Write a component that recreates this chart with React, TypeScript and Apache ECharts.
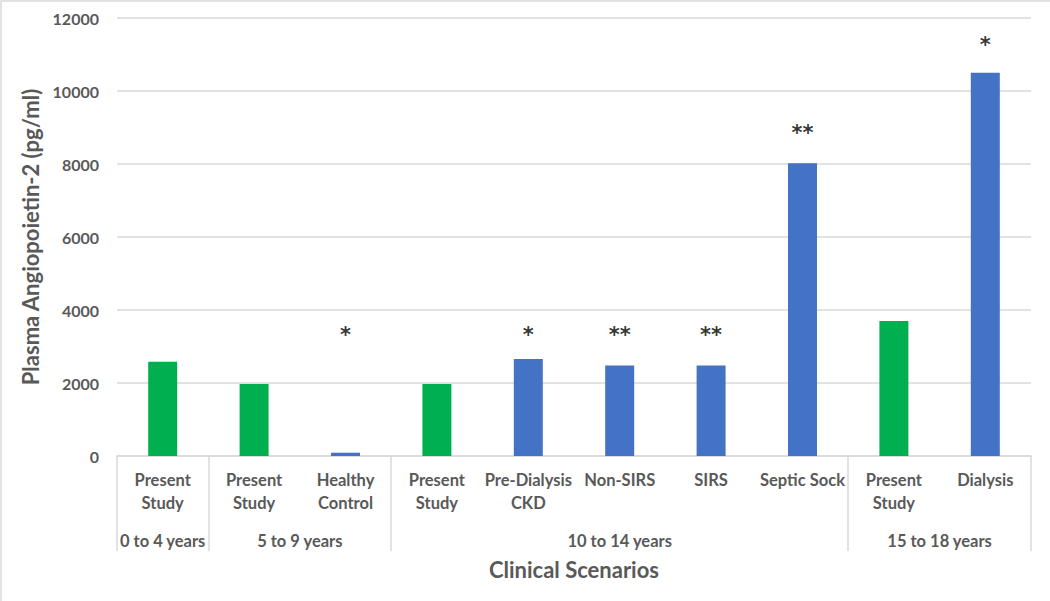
import React, { useEffect, useRef } from "react";
import * as echarts from "echarts";

const categories = [
  "Present\nStudy",
  "Present\nStudy",
  "Healthy\nControl",
  "Present\nStudy",
  "Pre-Dialysis\nCKD",
  "Non-SIRS",
  "SIRS",
  "Septic Sock",
  "Present\nStudy",
  "Dialysis",
];
const values = [2580, 1970, 90, 1970, 2660, 2480, 2480, 8020, 3700, 10500];
const isPresentStudy = [true, true, false, true, false, false, false, false, true, false];
const stars = ["", "", "*", "", "*", "**", "**", "**", "", "*"];
const starLevels = [null, null, 3320, null, 3320, 3320, 3320, 8850, null, 11250];
const groupNames = ["0 to 4 years", "5 to 9 years", "10 to 14 years", "15 to 18 years"];
const groupSizes = [1, 2, 5, 2];
const yTicks = [0, 2000, 4000, 6000, 8000, 10000, 12000];

const GREEN = "#00B050";
const BLUE = "#4472C4";
const GRAY_TEXT = "#595959";
const LINE = "#d9d9d9";
const FONT = "Lato, 'Open Sans', sans-serif";

export default function App() {
  const ref = useRef<HTMLDivElement>(null);
  useEffect(() => {
    document.body.style.margin = "0";
    if (!ref.current) return;
    const chart = echarts.init(ref.current, null, { renderer: "svg" });

    const bounds: number[] = [0];
    groupSizes.forEach((s) => bounds.push(bounds[bounds.length - 1] + s));
    const centers = groupSizes.map((s, i) => bounds[i] + s / 2);

    chart.setOption({
      animation: false,
      backgroundColor: "#ffffff",
      grid: { left: 117, right: 19, top: 18, bottom: 145, containLabel: false },
      graphic: [
        {
          type: "rect",
          shape: { x: 1, y: 1, width: 1100, height: 700 },
          style: { fill: "none", stroke: LINE, lineWidth: 1.5 },
          silent: true,
        },
      ],
      xAxis: [
        {
          type: "category",
          data: categories,
          axisLine: { show: true, lineStyle: { color: LINE, width: 1.5 } },
          axisTick: { show: false },
          axisLabel: {
            interval: 0,
            color: GRAY_TEXT,
            fontFamily: FONT,
            fontWeight: "bold",
            fontSize: 16.5,
            lineHeight: 23,
            margin: 12,
          },
          name: "Clinical Scenarios",
          nameLocation: "middle",
          nameGap: 102,
          nameTextStyle: { color: GRAY_TEXT, fontFamily: FONT, fontWeight: "bold", fontSize: 22 },
        },
        {
          type: "value",
          min: 0,
          max: categories.length,
          position: "bottom",
          axisLine: { show: false },
          splitLine: { show: false },
          axisTick: {
            show: true,
            inside: false,
            length: 95,
            customValues: bounds,
            lineStyle: { color: LINE, width: 1.5 },
          },
          axisLabel: {
            show: true,
            customValues: centers,
            margin: 76,
            color: GRAY_TEXT,
            fontFamily: FONT,
            fontWeight: "bold",
            fontSize: 16.5,
            formatter: (v: number) => {
              const i = centers.findIndex((c) => Math.abs(c - v) < 1e-6);
              return i >= 0 ? groupNames[i] : "";
            },
          },
        },
      ],
      yAxis: {
        type: "value",
        min: 0,
        max: 12000,
        interval: 2000,
        axisLine: { show: false },
        axisTick: { show: false },
        splitLine: { lineStyle: { color: LINE, width: 1.5 } },
        axisLabel: {
          color: GRAY_TEXT,
          fontFamily: FONT,
          fontWeight: "bold",
          fontSize: 16,
          margin: 18,
          customValues: yTicks,
          formatter: (v: number) => String(v),
        },
        name: "Plasma Angiopoietin-2 (pg/ml)",
        nameLocation: "middle",
        nameGap: 68,
        nameTextStyle: { color: GRAY_TEXT, fontFamily: FONT, fontWeight: "bold", fontSize: 22 },
      },
      series: [
        {
          type: "bar",
          xAxisIndex: 0,
          barWidth: 29,
          data: values.map((v, i) => ({
            value: v,
            itemStyle: { color: isPresentStudy[i] ? GREEN : BLUE },
          })),
        },
        {
          type: "scatter",
          xAxisIndex: 0,
          symbolSize: 0,
          silent: true,
          data: starLevels.map((v, i) => (v === null ? null : [i, v])),
          label: {
            show: true,
            position: "inside",
            formatter: (p: any) => stars[p.dataIndex],
            color: "#000000",
            fontFamily: "'DejaVu Sans', sans-serif",
            fontWeight: "bold",
            fontSize: 21,
          },
        },
      ],
    });
    return () => chart.dispose();
  }, []);
  return <div ref={ref} style={{ width: 1050, height: 601 }} />;
}
